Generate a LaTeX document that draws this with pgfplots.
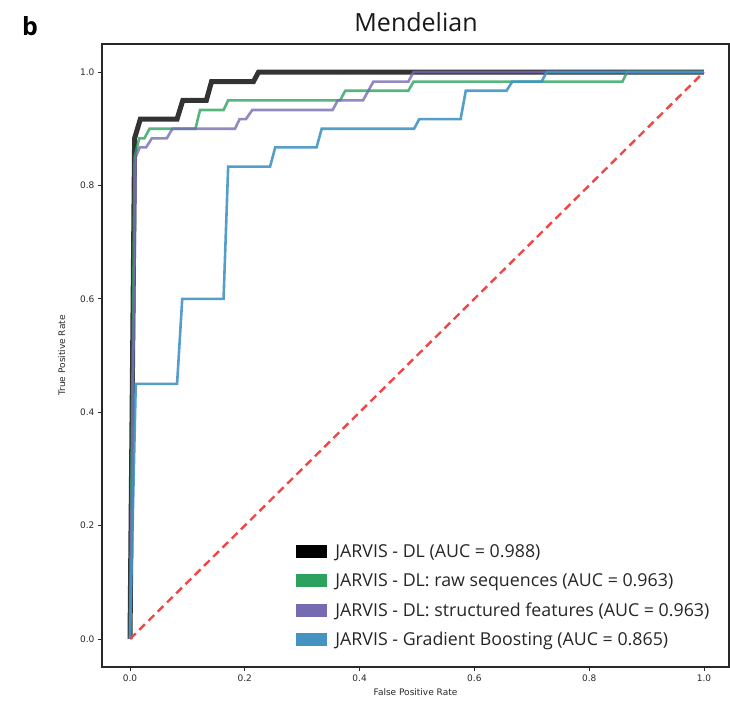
\documentclass[border=0pt]{standalone}
\usepackage{pgfplots}
\pgfplotsset{compat=1.18}
\usepackage{fontspec}
\setmainfont{Open Sans}
\newfontfamily\dejavu{DejaVu Sans}
\definecolor{cblack}{HTML}{222222}
\definecolor{cgreen}{RGB}{44,162,95}
\definecolor{cpurple}{RGB}{117,107,177}
\definecolor{cblue}{RGB}{67,147,195}
\definecolor{cred}{RGB}{240,70,70}
\definecolor{axgray}{RGB}{40,40,40}
\begin{document}
\begin{tikzpicture}[x=1pt,y=1pt]
\useasboundingbox (0,0) rectangle (730,705);
\begin{axis}[
  at={(102pt,38pt)}, anchor=south west,
  scale only axis, width=627pt, height=623pt,
  xmin=-0.0488, xmax=1.0436, ymin=-0.0494, ymax=1.0494,
  xtick={0,0.2,0.4,0.6,0.8,1.0}, ytick={0,0.2,0.4,0.6,0.8,1.0},
  xticklabel style={/pgf/number format/.cd, fixed, fixed zerofill, precision=1},
  yticklabel style={/pgf/number format/.cd, fixed, fixed zerofill, precision=1},
  /pgf/number format/assume math mode=true,
  ticklabel style={font=\dejavu\fontsize{9}{10}\selectfont, text=axgray},
  tick align=outside, xtick pos=bottom, ytick pos=left,
  major tick length=4pt,
  tick style={axgray, line width=0.8pt},
  axis line style={axgray, line width=1.5pt},
  xlabel={False Positive Rate}, ylabel={True Positive Rate},
  label style={font=\dejavu\fontsize{9}{10}\selectfont, text=axgray},
  xlabel style={yshift=0pt}, ylabel style={yshift=8pt},
  legend style={draw=none, fill=none, at={(0.305,0.026)}, anchor=south west,
    font=\fontsize{17.8}{20}\selectfont, text=black!85, row sep=11.5pt,
    nodes={inner sep=1.5pt}},
  legend cell align=left,
  clip=false,
]
\addplot[cblack, line width=5pt, opacity=0.92,
  legend image code/.code={\fill[black, draw=none, opacity=1] (0pt,-6.5pt) rectangle (31pt,6.5pt); \path (35pt,0pt);}]
coordinates {(0,0) (0.008,0.883) (0.018,0.917) (0.082,0.917) (0.092,0.95) (0.133,0.95) (0.142,0.983) (0.215,0.983) (0.224,1.0) (1,1)};
\addlegendentry{JARVIS - DL (AUC = 0.988)}
\addplot[cgreen, line width=2.6pt, opacity=0.8,
  legend image code/.code={\fill[cgreen, draw=none, opacity=1] (0pt,-6.5pt) rectangle (31pt,6.5pt); \path (35pt,0pt);}]
coordinates {(0,0) (0.008,0.85) (0.016,0.883) (0.025,0.883) (0.034,0.9) (0.114,0.9) (0.122,0.933) (0.163,0.933) (0.171,0.95) (0.366,0.95) (0.375,0.967) (0.485,0.967) (0.494,0.983) (0.858,0.983) (0.866,1.0) (1,1)};
\addlegendentry{JARVIS - DL: raw sequences (AUC = 0.963)}
\addplot[cpurple, line width=2.6pt, opacity=0.8,
  legend image code/.code={\fill[cpurple, draw=none, opacity=1] (0pt,-6.5pt) rectangle (31pt,6.5pt); \path (35pt,0pt);}]
coordinates {(0,0) (0.01,0.85) (0.017,0.867) (0.028,0.867) (0.038,0.883) (0.064,0.883) (0.074,0.9) (0.183,0.9) (0.191,0.917) (0.202,0.917) (0.213,0.933) (0.353,0.933) (0.362,0.95) (0.406,0.95) (0.424,0.983) (0.485,0.983) (0.494,1.0) (1,1)};
\addlegendentry{JARVIS - DL: structured features (AUC = 0.963)}
\addplot[cblue, line width=2.6pt, opacity=0.9,
  legend image code/.code={\fill[cblue, draw=none, opacity=1] (0pt,-6.5pt) rectangle (31pt,6.5pt); \path (35pt,0pt);}]
coordinates {(0,0) (0.01,0.45) (0.082,0.45) (0.091,0.6) (0.163,0.6) (0.171,0.833) (0.244,0.833) (0.253,0.867) (0.325,0.867) (0.334,0.9) (0.495,0.9) (0.504,0.917) (0.576,0.917) (0.585,0.967) (0.656,0.967) (0.666,0.983) (0.717,0.983) (0.726,1.0) (1,1)};
\addlegendentry{JARVIS - Gradient Boosting (AUC = 0.865)}
\addplot[cred, line width=2.4pt, dash pattern=on 8pt off 5pt, forget plot]
coordinates {(0,0) (1,1)};
\end{axis}
\node[font=\fontsize{25}{30}\selectfont, text=black!90] at (416,683) {Mendelian};
\node[font=\bfseries\fontsize{25}{28}\selectfont] at (30,679) {b};
\end{tikzpicture}
\end{document}
